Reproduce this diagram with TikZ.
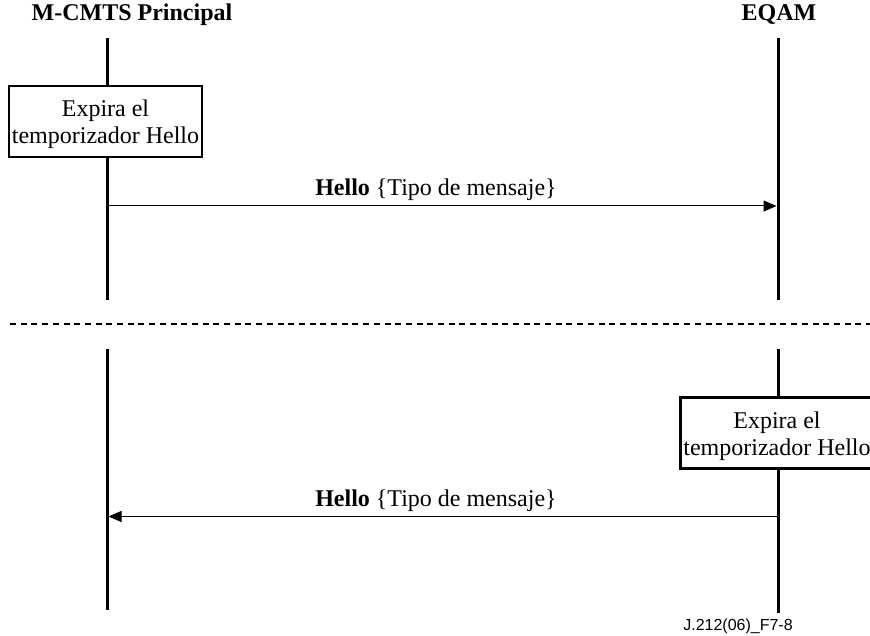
\documentclass[tikz,border=0pt]{standalone}
\usepackage{fontspec}
\setmainfont{Liberation Serif}
\newfontfamily\figfont{Liberation Sans}
\usetikzlibrary{arrows.meta}

\begin{document}
\begin{tikzpicture}[x=1pt,y=-1pt,
  lifeline/.style={line width=3pt},
  actbox/.style={draw,line width=2.5pt,fill=white,minimum width=193pt,
    minimum height=71pt,inner sep=0pt},
  acttext/.style={align=center,inner sep=0pt,yshift=-3pt,
    font=\fontsize{24}{27}\selectfont},
  head/.style={font=\fontsize{24}{28}\selectfont\bfseries},
  msg/.style={line width=1pt,-{Triangle[length=13pt,width=11pt]}},
  msglabel/.style={font=\fontsize{24}{28}\selectfont,anchor=base},
  separator/.style={line width=1.2pt,dash pattern=on 6pt off 4.7pt}]
\useasboundingbox (0,0) rectangle (870,636);
\begin{scope}
\clip (0,0) rectangle (870,636);

% participants
\node[head] (mcmts) at (132,15) {M-CMTS Principal};
\node[head] (eqam) at (779,15) {EQAM};

% first exchange: the M-CMTS timer expires
\coordinate (l1top) at (107,38);
\coordinate (l1bot) at (107,300);
\coordinate (r1top) at (778,38);
\coordinate (r1bot) at (778,300);
\node[actbox] (tm1) at (105.5,121.5) {};
\node[acttext] (tm1txt) at (tm1.center) {Expira el\\temporizador Hello};
\draw[lifeline] (l1top) -- (tm1.north -| l1top);
\draw[lifeline] (tm1.south -| l1top) -- (l1bot);
\draw[lifeline] (r1top) -- (r1bot);
\coordinate (m1s) at (107,206);
\coordinate (m1e) at (776.5,206);
\draw[msg] (m1s) -- (m1e);
\node[msglabel] (lab1) at (436,196) {\textbf{Hello} \{Tipo de mensaje\}};

% separator between the two cases
\coordinate (sepl) at (10,324);
\coordinate (sepr) at (870,324);
\draw[separator] (sepl) -- (sepr);

% second exchange: the EQAM timer expires
\coordinate (l2top) at (107,349);
\coordinate (l2bot) at (107,610);
\coordinate (r2top) at (778,349);
\coordinate (r2bot) at (778,613);
\node[actbox] (tm2) at (777,433) {};
\node[acttext] (tm2txt) at (tm2.center) {Expira el\\temporizador Hello};
\draw[lifeline] (l2top) -- (l2bot);
\draw[lifeline] (r2top) -- (tm2.north -| r2top);
\draw[lifeline] (tm2.south -| r2top) -- (r2bot);
\coordinate (m2s) at (778,516.5);
\coordinate (m2e) at (108.5,516.5);
\draw[msg] (m2s) -- (m2e);
\node[msglabel] (lab2) at (436,506) {\textbf{Hello} \{Tipo de mensaje\}};

% figure reference
\node[font=\figfont\fontsize{16}{18}\selectfont] (fig) at (738,626.5) {J.212(06)\_F7-8};
\end{scope}
\end{tikzpicture}
\end{document}
